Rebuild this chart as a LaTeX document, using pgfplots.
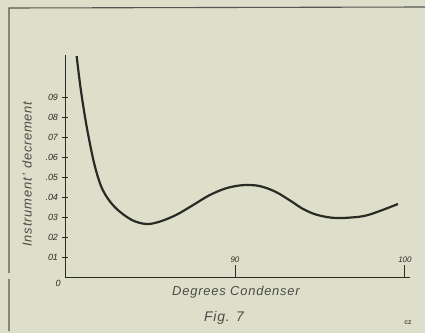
\documentclass[border=0pt]{standalone}
\usepackage{pgfplots}
\pgfplotsset{compat=1.18}
\usepackage{fontspec}
\setmainfont{Liberation Sans}
\definecolor{bg}{HTML}{DEDFCA}
\definecolor{ink}{HTML}{2B2B26}
\begin{document}
\begin{tikzpicture}
\fill[bg] (0bp,0bp) rectangle (425bp,-333bp);
\draw[ink!80, line width=1.1bp] (9bp,-331bp) -- (9bp,-279bp) (9bp,-273bp) -- (9bp,-8bp) -- (425bp,-7bp);
\begin{axis}[
  at={(65bp,-277bp)}, anchor=south west,
  scale only axis, width=345bp, height=222bp,
  xmin=80, xmax=100.3, ymin=0, ymax=0.111,
  axis lines=left, axis line style={-, ink, line width=1bp},
  xtick={90,100}, xticklabels={90,100},
  ytick={0.01,0.02,0.03,0.04,0.05,0.06,0.07,0.08,0.09},
  yticklabels={01,02,03,.04,.05,.06,07,08,09},
  tick align=center, major tick length=5bp,
  tick style={ink, line width=0.9bp},
  xtick style={/pgfplots/major tick length=12bp, yshift=6bp},
  xticklabel style={anchor=south, yshift=13bp, font=\itshape\fontsize{8}{9}\selectfont, text=ink},
  yticklabel style={font=\itshape\fontsize{9}{10}\selectfont, text=ink, xshift=-1bp},
  clip=false,
]
\addplot[ink, line width=2.2bp, smooth, tension=0.55] coordinates {
(80.684,0.1105) (80.877,0.097) (81.082,0.085) (81.345,0.072) (81.754,0.0555)
(82.222,0.0435) (82.924,0.035) (83.901,0.02865) (84.778,0.0265) (85.556,0.02765)
(86.532,0.031) (87.503,0.0358) (88.480,0.0408) (89.456,0.0443) (90.427,0.0459)
(91.404,0.04555) (92.380,0.04265) (93.351,0.03765) (93.936,0.03435) (94.719,0.03135)
(95.690,0.02965) (96.667,0.02965) (97.836,0.031) (99.591,0.0365)
};
\end{axis}
\node[text=ink, font=\itshape\fontsize{9}{10}\selectfont] at (58bp,-283bp) {0};
\node[text=ink!85, rotate=90, font=\itshape\fontsize{13}{14}\selectfont] at (27bp,-174bp) {\addfontfeature{LetterSpace=6}Instrument\,' decrement};
\node[text=ink!85, font=\itshape\fontsize{13}{14}\selectfont] at (236bp,-292bp) {\addfontfeature{LetterSpace=6}Degrees Condenser};
\node[text=ink!85, font=\itshape\fontsize{14}{15}\selectfont] at (224bp,-318bp) {\addfontfeature{LetterSpace=6}Fig. 7};
\node[text=ink!80, font=\bfseries\fontsize{7}{8}\selectfont] at (408bp,-323bp) {cz};
\pgfresetboundingbox
\useasboundingbox (0bp,0bp) rectangle (425bp,-333bp);
\end{tikzpicture}
\end{document}
